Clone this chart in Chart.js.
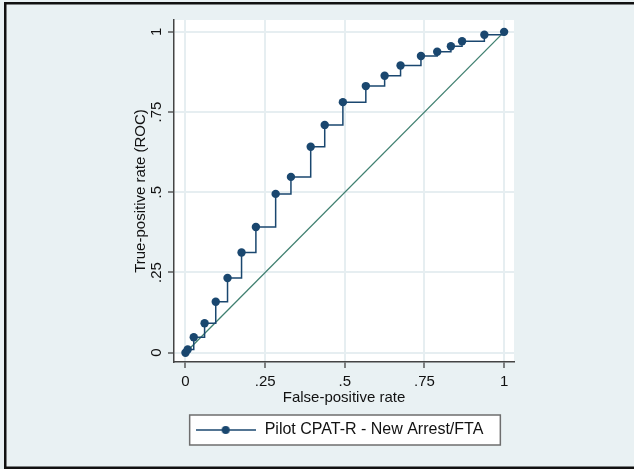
<!DOCTYPE html>
<html>
<head>
<meta charset="utf-8">
<script src="https://cdn.jsdelivr.net/npm/chart.js@4/dist/chart.umd.min.js"></script>
<style>
  html, body { margin: 0; padding: 0; background: #e9f1f3; }
  #wrap { width: 634px; height: 469px; }
</style>
</head>
<body>
<div id="wrap"><canvas id="roc"></canvas></div>
<script>
// ROC curve values
const seriesName = 'Pilot CPAT-R - New Arrest/FTA';
const fpr = [0, 0.007, 0.026, 0.060, 0.095, 0.132, 0.176, 0.221, 0.283, 0.331, 0.393,
             0.437, 0.494, 0.566, 0.625, 0.675, 0.739, 0.790, 0.833, 0.868, 0.938, 1];
const tpr = [0, 0.010, 0.048, 0.092, 0.159, 0.233, 0.3125, 0.392, 0.495, 0.548, 0.642,
             0.710, 0.781, 0.831, 0.863, 0.895, 0.925, 0.938, 0.955, 0.971, 0.991, 1];
const refLine = [0, 1]; // chance diagonal
const tickValues = [0, 0.25, 0.5, 0.75, 1];
const tickLabels = ['0', '.25', '.5', '.75', '1'];

const navy = '#1a476f';
const teal = '#3f8070';
const font = "'Liberation Sans', Arial, sans-serif";

// legend swatch: line with a dot in the middle
const swatch = document.createElement('canvas');
swatch.width = 60;
swatch.height = 10;
const sctx = swatch.getContext('2d');
sctx.strokeStyle = navy;
sctx.lineWidth = 1.5;
sctx.beginPath();
sctx.moveTo(0, 5);
sctx.lineTo(60, 5);
sctx.stroke();
sctx.fillStyle = navy;
sctx.beginPath();
sctx.arc(30, 5, 4, 0, Math.PI * 2);
sctx.fill();

const frame = {
    id: 'frame',
    afterLayout(chart) {
        // stata puts the key a touch left of the plot centre
        if (chart.legend) {
            chart.legend.left -= 5;
            chart.legend.right -= 5;
        }
    },
    beforeDraw(chart) {
        const { ctx, chartArea: a } = chart;
        ctx.save();
        ctx.fillStyle = '#e9f1f3';
        ctx.fillRect(0, 0, chart.width, chart.height);
        ctx.fillStyle = '#ffffff';
        ctx.fillRect(a.left, a.top, a.right - a.left, a.bottom - a.top);

        // box round the legend
        const hb = chart.legend && chart.legend.legendHitBoxes[0];
        if (hb) {
            const x0 = hb.left - 5, x1 = hb.left + hb.width + 17;
            const y0 = hb.top - 7, y1 = hb.top + 23;
            ctx.fillStyle = '#ffffff';
            ctx.fillRect(x0, y0, x1 - x0, y1 - y0);
            ctx.strokeStyle = '#6e6e6e';
            ctx.lineWidth = 1.5;
            ctx.strokeRect(x0, y0, x1 - x0, y1 - y0);
        }
        ctx.restore();
    },
    afterDraw(chart) {
        const ctx = chart.ctx;
        ctx.save();
        ctx.fillStyle = '#111111';
        ctx.fillRect(4, 2, chart.width - 4, 2.5);
        ctx.fillRect(4, 2, 2.5, chart.height - 2);
        ctx.fillRect(4, chart.height - 2.5, chart.width - 4, 2.5);
        ctx.restore();
    }
};

function fixedTicks(scale) {
    scale.ticks = tickValues.map(v => ({ value: v }));
}

const axisCommon = {
    type: 'linear',
    afterBuildTicks: fixedTicks,
    grid: {
        color: '#e6eef1',
        lineWidth: 2,
        tickColor: '#444444',
        tickLength: 6,
        tickWidth: 1.3
    },
    border: { display: true, color: '#444444', width: 1.5 }
};

new Chart(document.getElementById('roc'), {
    type: 'line',
    data: {
        datasets: [
            {
                label: seriesName,
                data: fpr.map((x, i) => ({ x: x, y: tpr[i] })),
                borderColor: navy,
                backgroundColor: navy,
                borderWidth: 1.5,
                stepped: 'before',
                pointRadius: 4.2,
                pointBorderWidth: 0,
                pointBackgroundColor: navy
            },
            {
                label: 'Reference',
                data: refLine.map(v => ({ x: v, y: v })),
                borderColor: teal,
                borderWidth: 1.3,
                pointRadius: 0
            }
        ]
    },
    options: {
        responsive: true,
        maintainAspectRatio: false,
        animation: false,
        layout: { padding: { top: 20, left: 124, right: 120, bottom: 21 } },
        plugins: {
            tooltip: { enabled: false },
            legend: {
                position: 'bottom',
                fullSize: false,
                labels: {
                    usePointStyle: true,
                    pointStyle: swatch,
                    pointStyleWidth: 62,
                    padding: 10,
                    color: '#111111',
                    font: { family: font, size: 16 },
                    filter: item => item.datasetIndex === 0
                }
            }
        },
        scales: {
            x: {
                ...axisCommon,
                min: -0.036,
                max: 1.031,
                afterFit: s => { s.height = 50; },
                ticks: {
                    padding: 5,
                    color: '#111111',
                    font: { family: font, size: 15 },
                    callback: (v, i) => tickLabels[i]
                },
                title: {
                    display: true,
                    text: 'False-positive rate',
                    color: '#111111',
                    font: { family: font, size: 15 },
                    padding: { top: 0, bottom: 5 }
                }
            },
            y: {
                ...axisCommon,
                min: -0.029,
                max: 1.037,
                afterFit: s => { s.width = 50; },
                ticks: {
                    padding: 1,
                    minRotation: 90,
                    maxRotation: 90,
                    crossAlign: 'center',
                    color: '#111111',
                    font: { family: font, size: 15 },
                    callback: (v, i) => tickLabels[i]
                },
                title: {
                    display: true,
                    text: 'True-positive rate (ROC)',
                    color: '#111111',
                    font: { family: font, size: 15 },
                    padding: { top: 8, bottom: 0 }
                }
            }
        }
    },
    plugins: [frame]
});
</script>
</body>
</html>
